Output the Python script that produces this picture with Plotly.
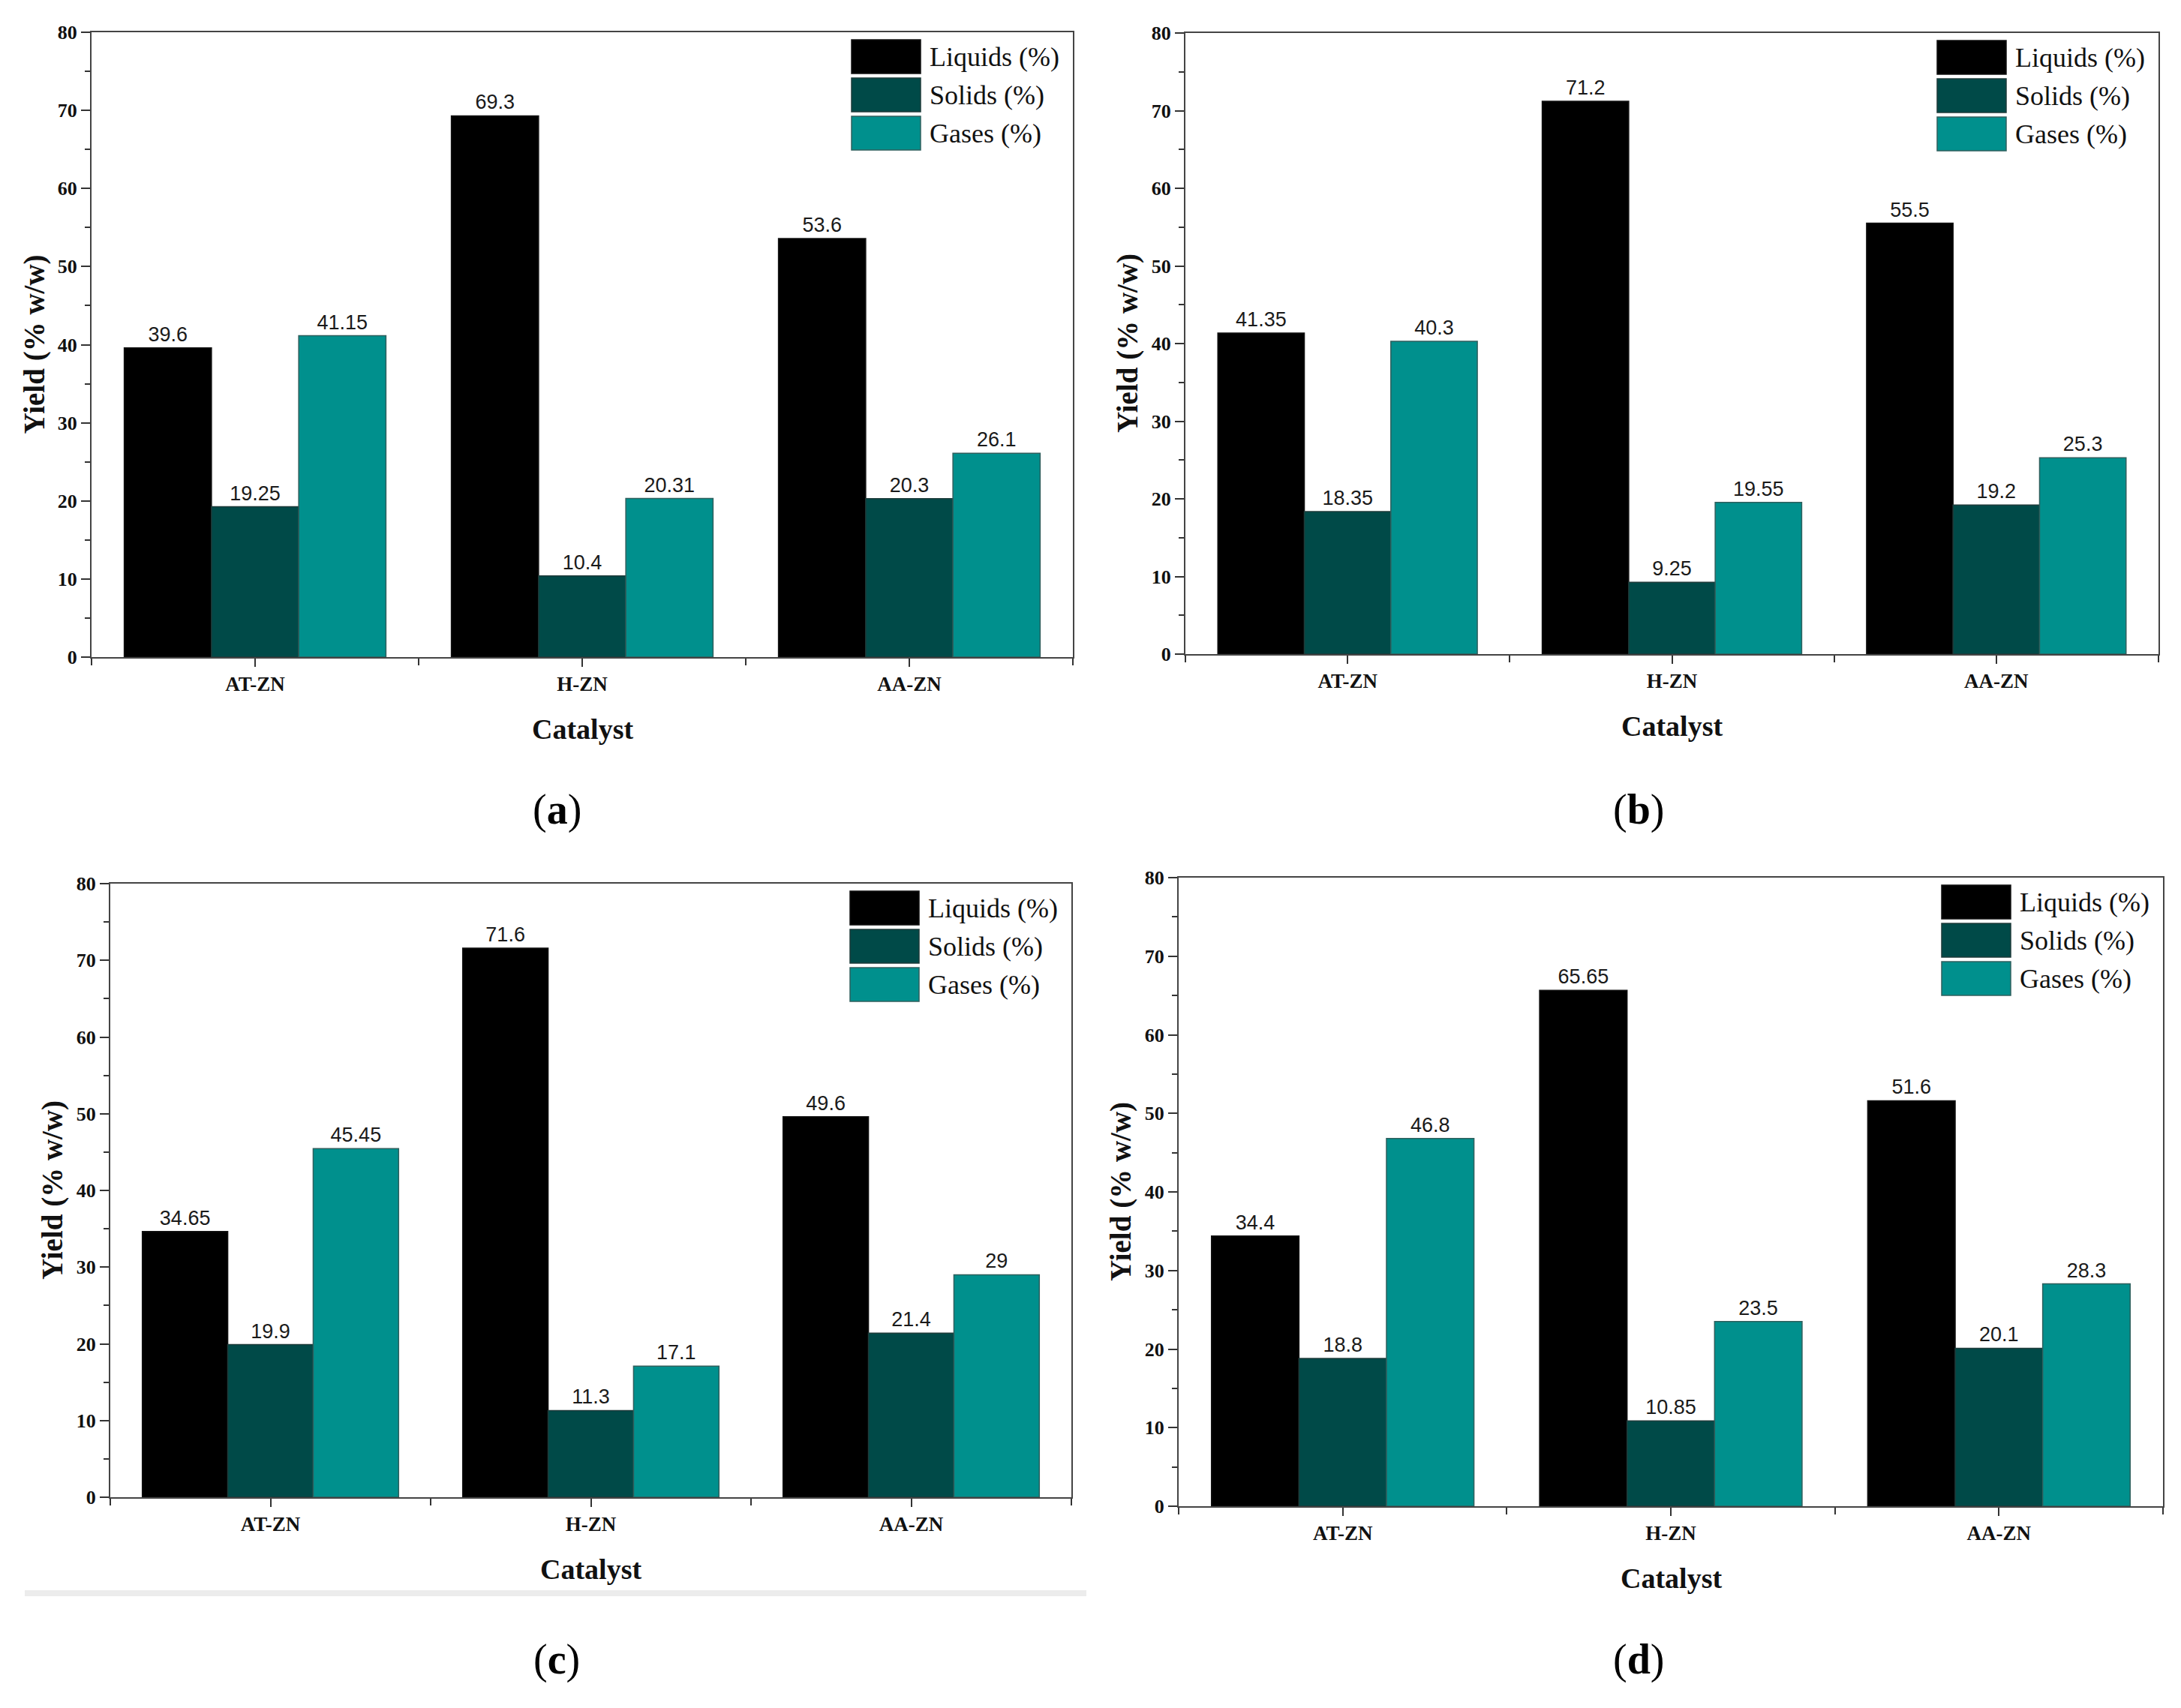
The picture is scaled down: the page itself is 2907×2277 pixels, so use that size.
import plotly.graph_objects as go

# ---------------- data ----------------
catalysts = ["AT-ZN", "H-ZN", "AA-ZN"]
series_names = ["Liquids (%)", "Solids (%)", "Gases (%)"]

a_liquids = [39.6, 69.3, 53.6]
a_solids = [19.25, 10.4, 20.3]
a_gases = [41.15, 20.31, 26.1]

b_liquids = [41.35, 71.2, 55.5]
b_solids = [18.35, 9.25, 19.2]
b_gases = [40.3, 19.55, 25.3]

c_liquids = [34.65, 71.6, 49.6]
c_solids = [19.9, 11.3, 21.4]
c_gases = [45.45, 17.1, 29]

d_liquids = [34.4, 65.65, 51.6]
d_solids = [18.8, 10.85, 20.1]
d_gases = [46.8, 23.5, 28.3]

panel_labels = ["a", "b", "c", "d"]
y_ticks = [0, 10, 20, 30, 40, 50, 60, 70, 80]

panels_data = [
    (a_liquids, a_solids, a_gases),
    (b_liquids, b_solids, b_gases),
    (c_liquids, c_solids, c_gases),
    (d_liquids, d_solids, d_gases),
]

# ---------------- styling ----------------
W, H = 2907, 2277
colors = ["#000000", "#004a48", "#00908d"]
outline = ["#111111", "#1e3b3a", "#2f5f5d"]

# plot-area boxes in pixels (left, top, right, bottom)
boxes = [
    (122, 43, 1430, 876),
    (1580, 44, 2877, 872),
    (147, 1178, 1428, 1996),
    (1571, 1170, 2883, 2008),
]
label_pos = [(742, 1079), (2184, 1079), (742, 2212), (2184, 2212)]

def px(x):
    return x / W

def py(y):
    return 1 - y / H

serif = "Liberation Serif, Times New Roman, serif"
sans = "Liberation Sans Narrow, Liberation Sans, Arial, sans-serif"

fig = go.Figure()
annotations = []
shapes = []

for i, (vals, box) in enumerate(zip(panels_data, boxes)):
    L, T, R, B = box
    xa = "x" if i == 0 else f"x{i+1}"
    ya = "y" if i == 0 else f"y{i+1}"
    xkey = "xaxis" if i == 0 else f"xaxis{i+1}"
    ykey = "yaxis" if i == 0 else f"yaxis{i+1}"

    for s, (name, v) in enumerate(zip(series_names, vals)):
        fig.add_trace(go.Bar(
            x=[0, 1, 2], y=v, name=name,
            marker=dict(color=colors[s], line=dict(color=outline[s], width=1.5)),
            text=[str(t) for t in v], textposition="outside",
            textfont=dict(family=sans, size=27, color="#1a1a1a"),
            cliponaxis=False, showlegend=False,
            xaxis=xa, yaxis=ya,
        ))

    fig.layout[xkey] = dict(
        domain=[px(L), px(R)], anchor=ya, range=[-0.5, 2.5],
        automargin=False,
        tickmode="array", tickvals=[0, 1, 2], ticktext=catalysts,
        ticks="outside", ticklen=11, tickwidth=2, tickcolor="#333",
        minor=dict(tickmode="array", tickvals=[-0.5, 0.5, 1.5, 2.5],
                   ticks="outside", ticklen=9, tickwidth=2, tickcolor="#333"),
        showline=True, linecolor="#444", linewidth=2, mirror=True,
        showgrid=False, zeroline=False,
        tickfont=dict(family=serif, size=27, color="#111", weight="bold"),
    )
    fig.layout[ykey] = dict(
        domain=[py(B), py(T)], anchor=xa, range=[0, 80],
        automargin=False,
        tickmode="array", tickvals=y_ticks,
        ticks="outside", ticklen=12, tickwidth=2, tickcolor="#333",
        minor=dict(dtick=5, tick0=0, ticks="outside", ticklen=7,
                   tickwidth=2, tickcolor="#333"),
        showline=True, linecolor="#444", linewidth=2, mirror=True,
        showgrid=False, zeroline=False,
        tickfont=dict(family=serif, size=26, color="#111", weight="bold"),
    )

    # axis titles
    annotations.append(dict(
        x=px(L - 77), y=py((T + B) / 2), xref="paper", yref="paper",
        text="<b>Yield (% w/w)</b>", textangle=-90, showarrow=False,
        xanchor="center", yanchor="middle",
        font=dict(family=serif, size=39, color="#111"),
    ))
    annotations.append(dict(
        x=px((L + R) / 2), y=py(B + 96), xref="paper", yref="paper",
        text="<b>Catalyst</b>", showarrow=False,
        xanchor="center", yanchor="middle",
        font=dict(family=serif, size=38, color="#111"),
    ))
    # panel label
    lx, ly = label_pos[i]
    annotations.append(dict(
        x=px(lx), y=py(ly), xref="paper", yref="paper",
        text=f"(<b>{panel_labels[i]}</b>)", showarrow=False,
        xanchor="center", yanchor="middle",
        font=dict(family=serif, size=56, color="#000"),
    ))

    # legend (swatches + text)
    for s, name in enumerate(series_names):
        top = T + 10 + 51 * s
        shapes.append(dict(
            type="rect", xref="paper", yref="paper",
            x0=px(R - 295), x1=px(R - 203), y0=py(top + 45), y1=py(top),
            fillcolor=colors[s], line=dict(color=outline[s], width=1.5),
        ))
        annotations.append(dict(
            x=px(R - 193), y=py(top + 23), xref="paper", yref="paper",
            text=name, showarrow=False, xanchor="left", yanchor="middle",
            font=dict(family=serif, size=36, color="#111"),
        ))

# light grey separator under panel (c)
shapes.append(dict(
    type="rect", xref="paper", yref="paper",
    x0=px(33), x1=px(1448), y0=py(2128), y1=py(2120),
    fillcolor="#ececec", line=dict(width=0),
))

fig.update_layout(
    width=W, height=H, autosize=False,
    margin=dict(l=0, r=0, t=0, b=0, autoexpand=False),
    paper_bgcolor="white", plot_bgcolor="white",
    barmode="group", bargap=0.2, bargroupgap=0,
    showlegend=False,
    annotations=annotations, shapes=shapes,
)

fig.write_html("out.html")
